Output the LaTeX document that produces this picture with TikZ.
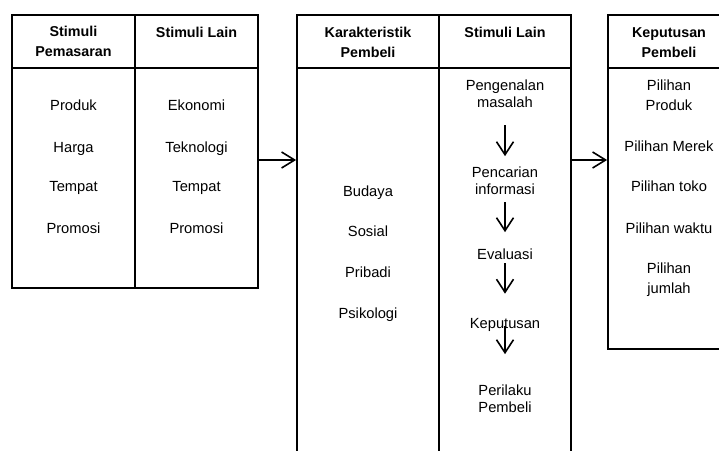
\documentclass[tikz,border=0pt]{standalone}
\usepackage{fontspec}
\setmainfont{Liberation Sans}
\usetikzlibrary{positioning,arrows.meta}

\tikzset{
  panel/.style={draw,line width=1.8pt,inner sep=0pt},
  item/.style={inner sep=0pt,anchor=base,align=center,font=\fontsize{14.7}{20}\selectfont},
  stage/.style={item,font=\fontsize{14.7}{17}\selectfont},
  head/.style={item,font=\fontsize{14.3}{19.5}\selectfont\bfseries},
  link/.style={line width=1.6pt,-{Straight Barb[length=13pt,width=16pt,line width=1.6pt]}},
  flow/.style={line width=1.6pt,-{Straight Barb[length=13pt,width=17pt,line width=1.6pt]}}
}

\begin{document}
\begin{tikzpicture}[x=1pt,y=-1pt]
    \useasboundingbox (0,0) rectangle (719,450);
    \coordinate (hd) at (0,68);
    \coordinate (mid) at (0,160);

    % boxes
    \node [panel,minimum width=246pt,minimum height=273pt] (sp) at (135,151.5) {};
    \node [panel,minimum width=274pt,minimum height=445pt] (kp) at (434,237.5) {};
    \node [panel,minimum width=122pt,minimum height=334pt] (dp) at (669,182) {};
    \draw [line width=1.8pt] (sp.north) -- (sp.south);
    \draw [line width=1.8pt] (439,15) -- (439,460);
    \draw [line width=1.8pt] (sp.west |- hd) -- (sp.east |- hd);
    \draw [line width=1.8pt] (kp.west |- hd) -- (kp.east |- hd);
    \draw [line width=1.8pt] (dp.west |- hd) -- (dp.east |- hd);

    % headers
    \node [head] (h1) at (73.5,56) {Stimuli\\Pemasaran};
    \node [head] (h2) at (196.5,37) {Stimuli Lain};
    \node [head] (h3) at (368,57) {Karakteristik\\Pembeli};
    \node [head] (h4) at (505,37) {Stimuli Lain};
    \node [head] (h5) at (669,57) {Keputusan\\Pembeli};

    % stimuli
    \node [item] (pr) at (73.5,110) {Produk};
    \node [item] (hg) at (73.5,152) {Harga};
    \node [item] (tp) at (73.5,191) {Tempat};
    \node [item] (pm) at (73.5,233) {Promosi};
    \node [item] (ek) at (196.5,110) {Ekonomi};
    \node [item] (tk) at (196.5,152) {Teknologi};
    \node [item] (tl) at (196.5,191) {Tempat};
    \node [item] (pl) at (196.5,233) {Promosi};

    % karakteristik
    \node [item] (bd) at (368,196) {Budaya};
    \node [item] (ss) at (368,236) {Sosial};
    \node [item] (pb) at (368,277) {Pribadi};
    \node [item] (ps) at (368,318) {Psikologi};

    % proses
    \node [stage] (s1) at (505,107) {Pengenalan\\masalah};
    \node [stage] (s2) at (505,194) {Pencarian\\informasi};
    \node [stage] (s3) at (505,259) {Evaluasi};
    \node [stage] (s4) at (505,328) {Keputusan};
    \node [stage] (s5) at (505,412) {Perilaku\\Pembeli};
    \draw [flow,shorten <=18pt,shorten >=10pt] (s1.south) -- (s2.north);
    \draw [flow,shorten <=8pt,shorten >=16pt] (s2.south) -- (s3.north);
    \draw [flow,shorten <=4pt,shorten >=24pt] (s3.south) -- (s4.north);
    \draw [flow,shorten <=-5pt,shorten >=30pt] (s4.south) -- (s5.north);

    % keputusan
    \node [item] (k1) at (669,110) {Pilihan\\Produk};
    \node [item] (k2) at (669,151) {Pilihan Merek};
    \node [item] (k3) at (669,191) {Pilihan toko};
    \node [item] (k4) at (669,233) {Pilihan waktu};
    \node [item] (k5) at (669,293) {Pilihan\\jumlah};

    \draw [link] (sp.east |- mid) -- (kp.west |- mid);
    \draw [link] (kp.east |- mid) -- (dp.west |- mid);
\end{tikzpicture}
\end{document}
